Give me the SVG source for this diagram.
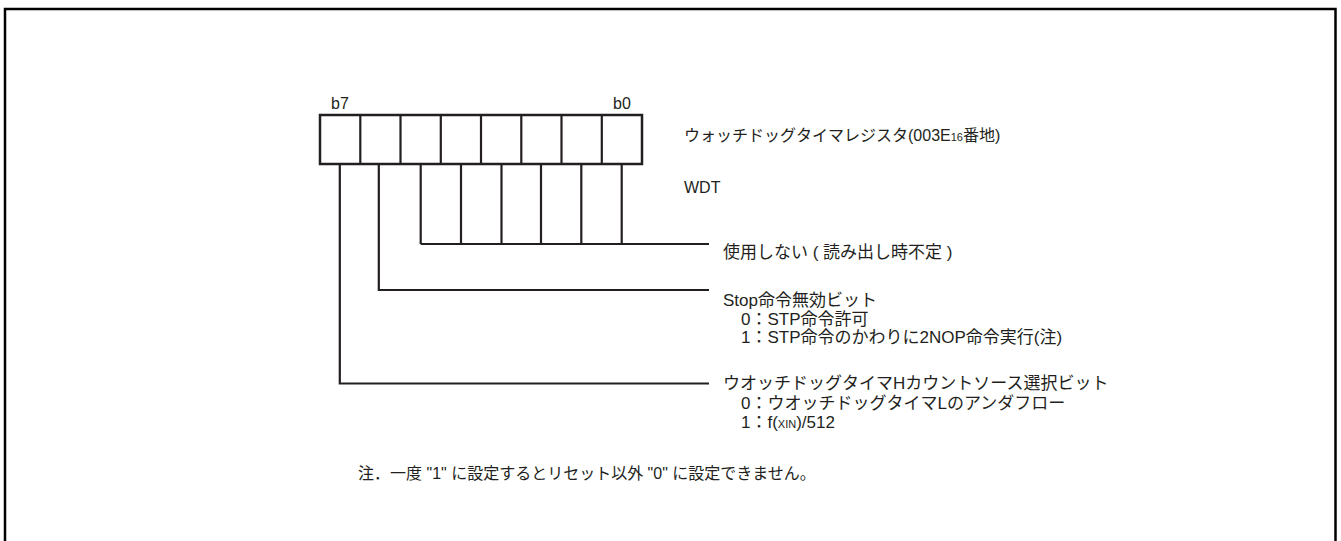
<svg xmlns="http://www.w3.org/2000/svg" width="1341" height="541" viewBox="0 0 1341 541">
<style>
text{font-family:"Liberation Sans","Noto Sans CJK JP",sans-serif;font-size:16px;fill:#231f20}
.lb{font-size:17px}
.sm{font-size:11px}
.ln{stroke:#231f20;stroke-width:2.2;fill:none}
.box{stroke:#231f20;stroke-width:2.5;fill:#fff}
</style>
<rect x="5" y="9" width="1330.5" height="600" fill="#fff" stroke="#000" stroke-width="2.5"/>
<g id="register">
<rect class="box" x="320" y="115" width="322" height="49"/>
<path class="ln" d="M360.3 115V164M400.5 115V164M440.8 115V164M481 115V164M521.3 115V164M561.5 115V164M601.8 115V164"/>
<text x="331" y="109">b7</text>
<text x="613" y="109">b0</text>
</g>
<g id="title">
<text x="684" y="140.5">ウォッチドッグタイマレジスタ(003E<tspan class="sm">16</tspan>番地)</text>
<text x="684" y="193">WDT</text>
</g>
<g id="connectors">
<path class="ln" d="M420.7 164V244M461 164V244M501.5 164V244M541 164V244M581.3 164V244M621.7 164V244M420.7 244H709"/>
<path class="ln" d="M378.8 164V290H709"/>
<path class="ln" d="M339.8 164V383.5H709"/>
</g>
<g id="unused">
<text class="lb" x="723" y="257.5">使用しない ( 読み出し時不定 )</text>
</g>
<g id="stop">
<text class="lb" x="723" y="306">Stop命令無効ビット</text>
<text class="lb" x="741" y="324.5">0：STP命令許可</text>
<text class="lb" x="741" y="343">1：STP命令のかわりに2NOP命令実行(注)</text>
</g>
<g id="source">
<text class="lb" x="723" y="389">ウオッチドッグタイマHカウントソース選択ビット</text>
<text class="lb" x="741" y="408.5">0：ウオッチドッグタイマLのアンダフロー</text>
<text class="lb" x="741" y="427.5">1：f(<tspan class="sm">XIN</tspan>)/512</text>
</g>
<g id="note">
<text x="358" y="479">注．一度 "1" に設定するとリセット以外 "0" に設定できません。</text>
</g>
</svg>
